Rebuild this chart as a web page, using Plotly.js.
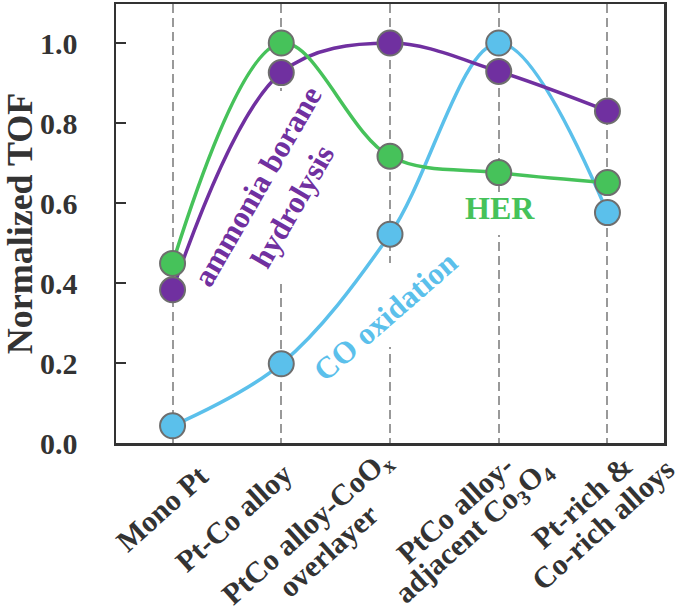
<!DOCTYPE html>
<html>
<head>
<meta charset="utf-8">
<script src="https://cdn.plot.ly/plotly-3.0.1.min.js"></script>
<style>
  html, body { margin: 0; padding: 0; background: #fff; }
  #chart { width: 685px; height: 614px; }
</style>
</head>
<body>
<div id="chart"></div>
<script>
// catalyst structures along the x axis
var categories = ['Mono Pt', 'Pt-Co alloy', 'PtCo alloy-CoOx overlayer', 'PtCo alloy-adjacent Co3O4', 'Pt-rich & Co-rich alloys'];
var categoryLabels = [
    ['Mono Pt'],
    ['Pt-Co alloy'],
    ['PtCo alloy-CoO<sub>x</sub>', 'overlayer'],
    ['PtCo alloy-', 'adjacent Co<sub>3</sub>O<sub>4</sub>'],
    ['Pt-rich &amp;', 'Co-rich alloys']
];

// normalized TOF
var coOxidation = [0.043, 0.198, 0.522, 1.0, 0.576];
var ammoniaBorane = [0.383, 0.926, 1.0, 0.929, 0.830];
var her = [0.449, 1.0, 0.717, 0.676, 0.651];

var yTicks = [0, 0.2, 0.4, 0.6, 0.8, 1.0];

var serif = '"Liberation Serif", "Times New Roman", serif';
var textColor = '#333333';

var colors = {
    co: '#5BC0EB',
    ab: '#7030A0',
    her: '#46C25A'
};

function series(y, color) {
    return {
        x: categories,
        y: y,
        type: 'scatter',
        mode: 'lines+markers',
        line: { shape: 'spline', smoothing: 1, color: color, width: 3.5 },
        marker: { size: 25, color: color, line: { color: '#6e6e6e', width: 2 } },
        hoverinfo: 'skip',
        showlegend: false
    };
}

// blue first, green last so the markers stack like the original
var data = [
    series(coOxidation, colors.co),
    series(ammoniaBorane, colors.ab),
    series(her, colors.her)
];

// The x labels sit by hand in the original with tight line spacing,
// so every line is its own rotated annotation. Offsets are pixels from the tick.
var labelAngle = 42;
var labelGap = 30;
var labelDx = [-11, -48, -72, -34, -15];
var labelDy = [65, 74, 96, 78, 70];

var rad = labelAngle * Math.PI / 180;
var annotations = [];
for (var i = 0; i < categories.length; i++) {
    var lines = categoryLabels[i];
    for (var j = 0; j < lines.length; j++) {
        var k = (j - (lines.length - 1) / 2) * labelGap;
        var px = labelDx[i] + k * Math.sin(rad);
        var py = labelDy[i] + k * Math.cos(rad);
        annotations.push({
            x: categories[i], xref: 'x',
            y: 0, yref: 'paper',
            xshift: px, yshift: -py,
            xanchor: 'center', yanchor: 'middle',
            text: lines[j],
            textangle: -labelAngle,
            showarrow: false,
            font: { family: serif, size: 30, weight: 'bold', color: textColor }
        });
    }
}

// series names written inside the plot
annotations.push({
    x: 'Pt-Co alloy', y: 0.6175, xshift: -7,
    text: 'ammonia borane<br>hydrolysis', textangle: -60, align: 'center',
    showarrow: false,
    font: { family: serif, size: 31, weight: 'bold', color: colors.ab }
});
annotations.push({
    x: 'PtCo alloy-adjacent Co3O4', y: 0.5875, xshift: 1,
    text: 'HER', showarrow: false,
    font: { family: serif, size: 32, weight: 'bold', color: colors.her }
});
annotations.push({
    x: 'PtCo alloy-CoOx overlayer', y: 0.3175, xshift: -5,
    text: 'CO oxidation', textangle: -41, showarrow: false,
    font: { family: serif, size: 31, weight: 'bold', color: colors.co }
});

// white patches that break the dashed guides behind the in-plot labels
function gap(xc, y0, y1) {
    return {
        type: 'rect', layer: 'between', xref: 'x', yref: 'y',
        x0: xc - 0.05, x1: xc + 0.05, y0: y0, y1: y1,
        fillcolor: '#ffffff', line: { width: 0 }
    };
}

var layout = {
    width: 685,
    height: 614,
    margin: { l: 116, r: 21, t: 4, b: 171 },
    paper_bgcolor: '#ffffff',
    plot_bgcolor: '#ffffff',
    xaxis: {
        type: 'category',
        categoryarray: categories,
        range: [-0.52, 4.52],
        showticklabels: false,
        ticks: '',
        showgrid: true,
        griddash: '9px,5px',
        gridcolor: '#999999',
        gridwidth: 2,
        zeroline: false,
        showline: true,
        mirror: true,
        linecolor: textColor,
        linewidth: 2.5
    },
    yaxis: {
        range: [0, 1.0975],
        tickvals: yTicks,
        tickformat: '.1f',
        ticks: 'inside',
        ticklen: 10,
        tickwidth: 2,
        tickcolor: textColor,
        ticklabelstandoff: 30,
        showgrid: false,
        zeroline: false,
        showline: true,
        mirror: true,
        linecolor: textColor,
        linewidth: 2.5,
        tickfont: { family: serif, size: 30, weight: 'bold', color: textColor },
        title: {
            text: 'Normalized TOF',
            standoff: 4,
            font: { family: serif, size: 36, weight: 'bold', color: textColor }
        }
    },
    shapes: [
        gap(1, 0.41, 0.88),
        gap(2, 0.24, 0.45),
        gap(3, 0.52, 0.6275)
    ],
    annotations: annotations
};

Plotly.newPlot('chart', data, layout, { displayModeBar: false, staticPlot: true });
</script>
</body>
</html>
